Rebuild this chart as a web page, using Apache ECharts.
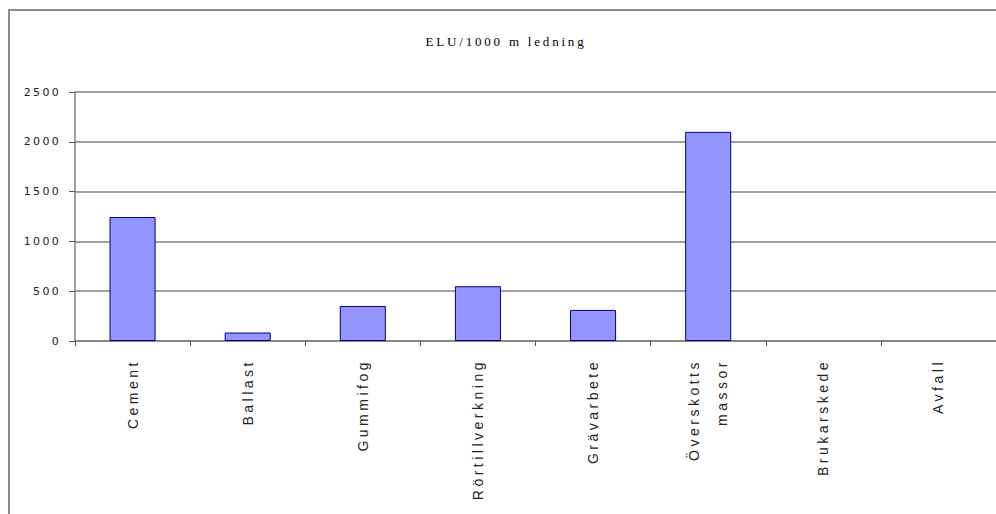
<!DOCTYPE html>
<html>
<head>
<meta charset="utf-8">
<script src="https://cdn.jsdelivr.net/npm/echarts@6/dist/echarts.min.js"></script>
<style>
  html, body { margin: 0; padding: 0; background: #fff; }
  #chart { width: 996px; height: 514px; }
</style>
</head>
<body>
<div id="chart"></div>
<script>
var titleText = 'ELU/1000 m ledning';
var categories = ['Cement', 'Ballast', 'Gummifog', 'Rörtillverkning', 'Grävarbete', 'Överskotts\nmassor', 'Brukarskede', 'Avfall'];
var eluValues = [1245, 85, 352, 550, 312, 2100, 0, 0];
var yTicks = [0, 500, 1000, 1500, 2000, 2500];

// spacing per font, the old picture has wide letter spacing everywhere
var spacingByFont = { 'Liberation Serif': '2.8px', 'Liberation Sans': '3.5px', 'DejaVu Sans': '2.3px' };

var chart = echarts.init(document.getElementById('chart'), null, { renderer: 'svg' });
chart.setOption({
  animation: false,
  title: {
    text: titleText,
    left: 501,
    top: 30,
    textAlign: 'center',
    textStyle: { fontFamily: 'Liberation Serif', fontSize: 13, fontWeight: 'normal', color: '#000' }
  },
  graphic: [{
    type: 'rect',
    shape: { x: 9, y: 10, width: 1100, height: 600 },
    style: { fill: 'none', stroke: '#8c8c8c', lineWidth: 2 },
    silent: true
  }],
  grid: { left: 75, top: 92, width: 923, height: 249 },
  xAxis: {
    type: 'category',
    data: categories,
    axisLine: { lineStyle: { color: '#808080', width: 1.5 } },
    axisTick: { show: true, length: 5, lineStyle: { color: '#555' } },
    axisLabel: {
      rotate: 90,
      margin: 18,
      fontFamily: 'Liberation Sans',
      fontSize: 14,
      color: '#222',
      lineHeight: 28
    }
  },
  yAxis: {
    type: 'value',
    min: 0,
    max: 2500,
    interval: 500,
    axisLine: { show: true, lineStyle: { color: '#808080', width: 1.5 } },
    axisTick: { show: true, length: 6, lineStyle: { color: '#555' } },
    axisLabel: {
      margin: 14,
      fontFamily: 'DejaVu Sans',
      fontSize: 11,
      color: '#222',
      formatter: function (v) { return yTicks.indexOf(v) >= 0 ? String(v) : ''; }
    },
    splitLine: { lineStyle: { color: '#808080', width: 1.5 } }
  },
  series: [{
    type: 'bar',
    data: eluValues.map(function (v) {
      return v === 0 ? { value: v, itemStyle: { borderWidth: 0 } } : v;
    }),
    barWidth: '40%',
    itemStyle: { color: '#9494ff', borderColor: '#000080', borderWidth: 1 }
  }]
});

document.querySelectorAll('#chart svg text').forEach(function (el) {
  var fam = getComputedStyle(el).fontFamily.replace(/["']/g, '');
  for (var k in spacingByFont) {
    if (fam.indexOf(k) === 0) el.setAttribute('letter-spacing', spacingByFont[k]);
  }
});
</script>
</body>
</html>
